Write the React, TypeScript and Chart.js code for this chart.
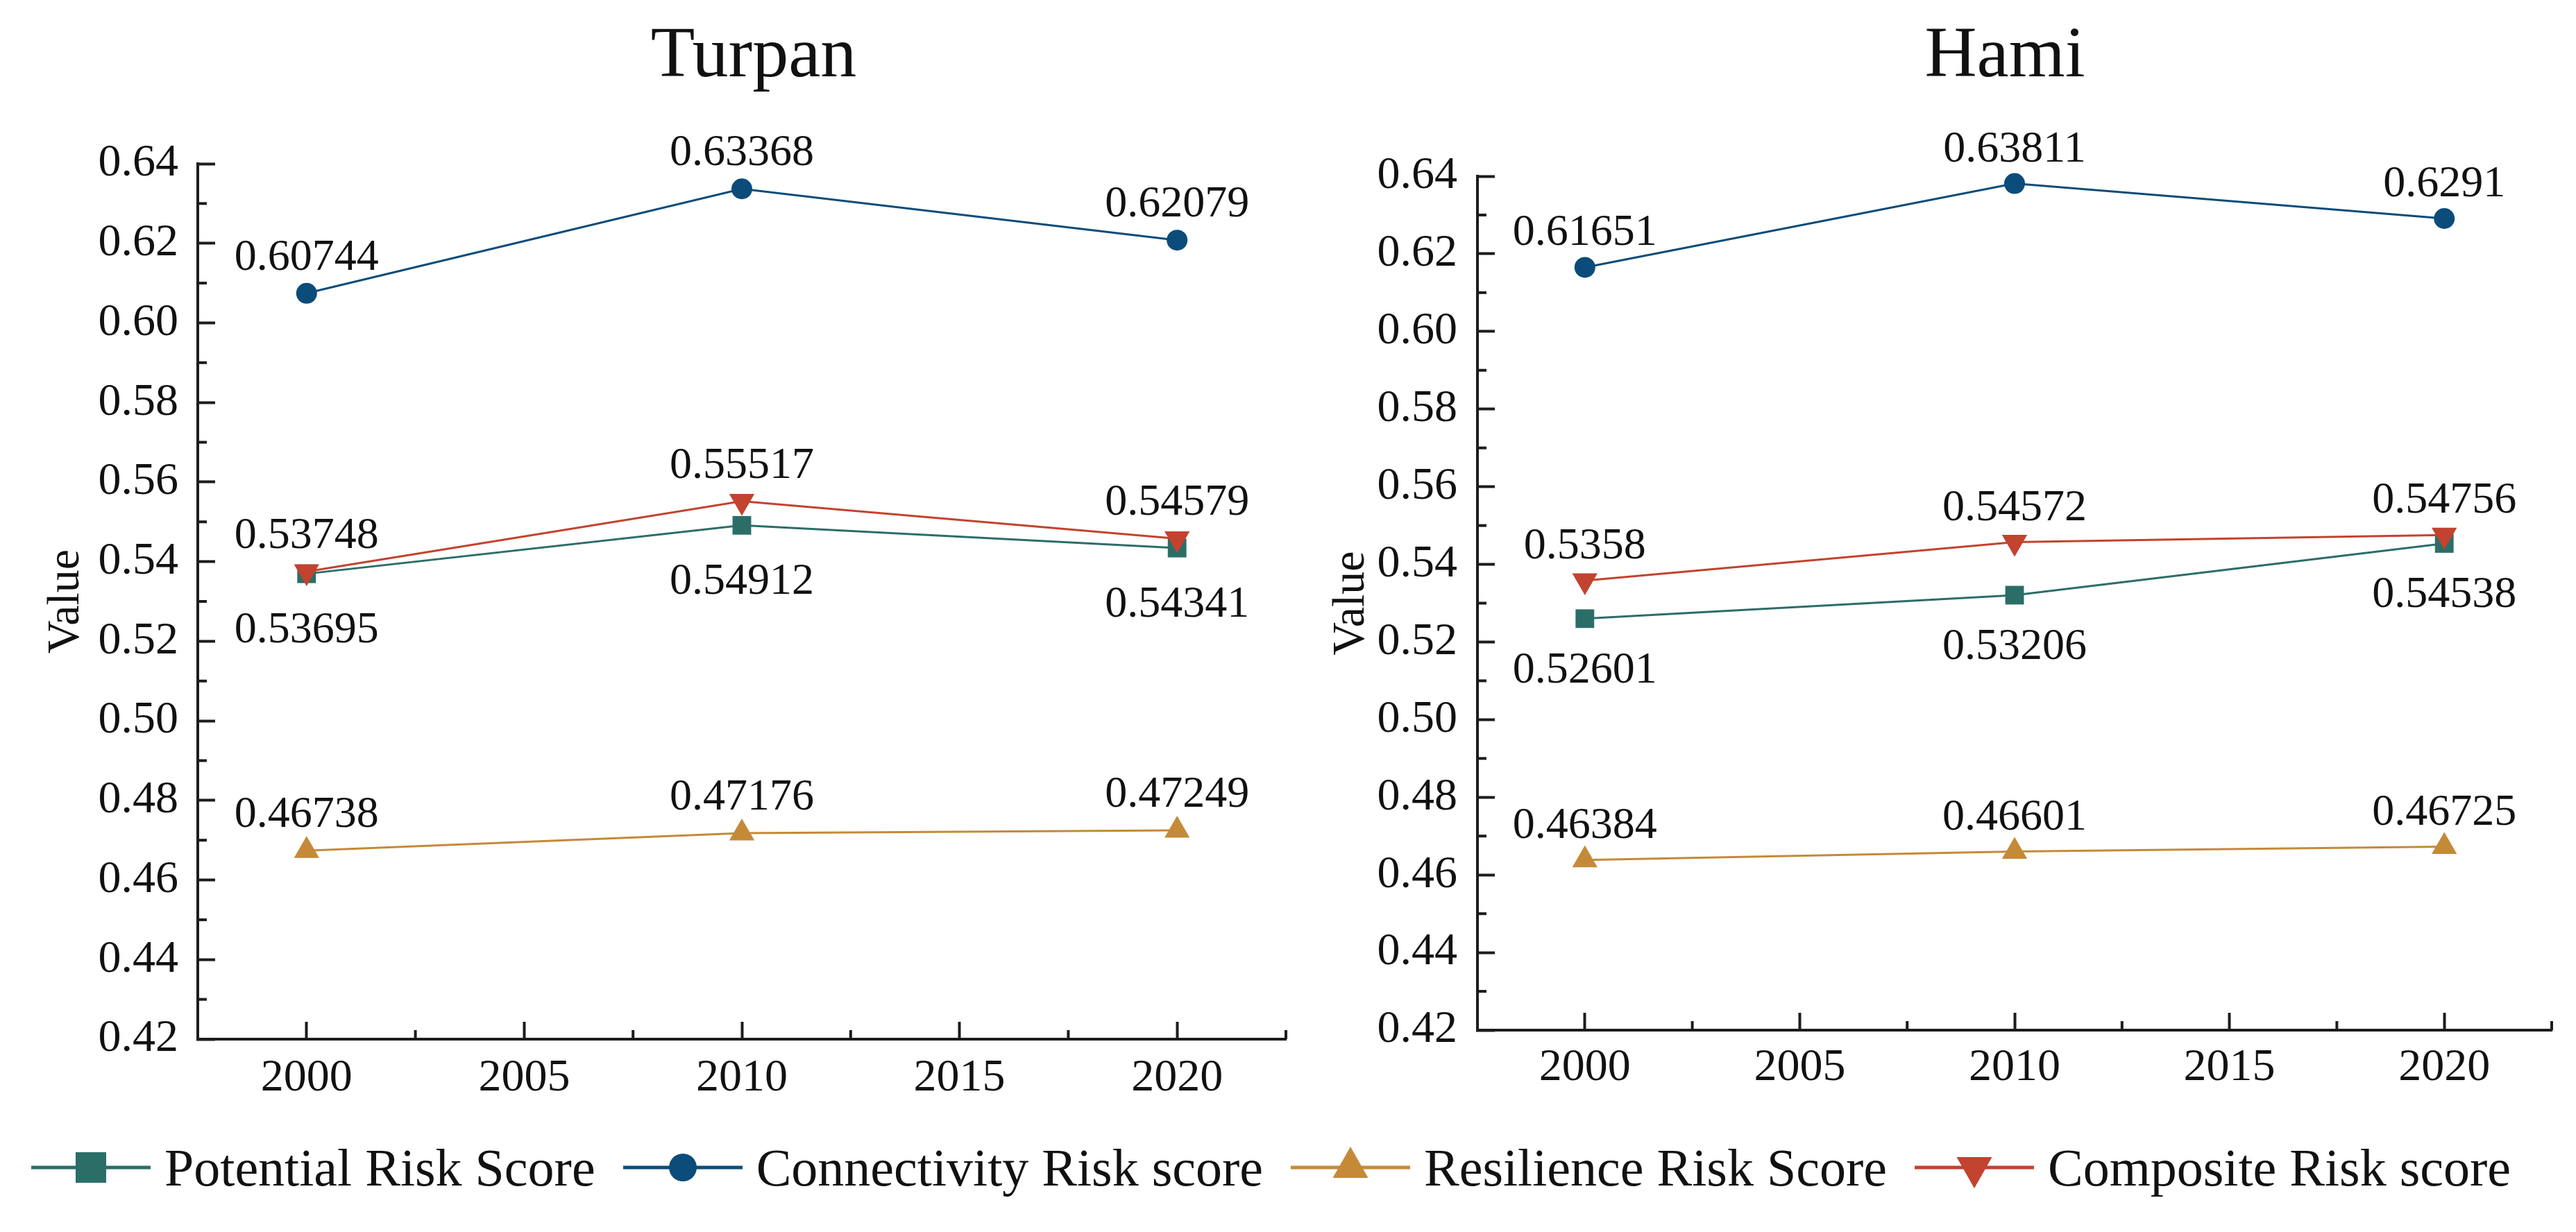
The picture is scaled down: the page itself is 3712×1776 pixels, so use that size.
import React, { useEffect, useRef } from 'react';
import { Chart, registerables } from 'chart.js';

Chart.register(...registerables);

// ---------------- data ----------------
const years = [2000, 2010, 2020];
const xTickValues = [2000, 2005, 2010, 2015, 2020];
const xMinorTicks = [2002.5, 2007.5, 2012.5, 2017.5, 2022.5];
const yTickValues = [0.42, 0.44, 0.46, 0.48, 0.5, 0.52, 0.54, 0.56, 0.58, 0.6, 0.62, 0.64];
const yMinorTicks = [0.43, 0.45, 0.47, 0.49, 0.51, 0.53, 0.55, 0.57, 0.59, 0.61, 0.63];

const seriesNames = [
  'Potential Risk Score',
  'Connectivity Risk score',
  'Resilience Risk Score',
  'Composite Risk score',
];

const turpanPotential = [0.53695, 0.54912, 0.54341];
const turpanConnectivity = [0.60744, 0.63368, 0.62079];
const turpanResilience = [0.46738, 0.47176, 0.47249];
const turpanComposite = [0.53748, 0.55517, 0.54579];

const hamiPotential = [0.52601, 0.53206, 0.54538];
const hamiConnectivity = [0.61651, 0.63811, 0.6291];
const hamiResilience = [0.46384, 0.46601, 0.46725];
const hamiComposite = [0.5358, 0.54572, 0.54756];

// ---------------- styles ----------------
const FONT = '"Liberation Serif", "Times New Roman", Times, serif';
const TEXT = '#111111';
const AXIS = '#1c1c1c';
const COLORS = ['#2B6E68', '#0B4C7A', '#C48A38', '#C2432F'];
const POINT_STYLES = ['rect', 'circle', 'triangle', 'triangle'];
const POINT_ROT = [0, 0, 0, 180];
const POINT_RADIUS = [19, 15, 21, 21];
const DRAW_ORDER = [3, 2, 1, 0];
const LABEL_POS = ['below', 'above', 'above', 'above'];

Chart.defaults.font.family = FONT;

const minorTickPlugin = {
  id: 'minorTicks',
  afterDraw(chart: any) {
    const { ctx, chartArea, scales } = chart;
    ctx.save();
    ctx.strokeStyle = AXIS;
    ctx.lineWidth = 4;
    xMinorTicks.forEach((v) => {
      const x = scales.x.getPixelForValue(v);
      ctx.beginPath();
      ctx.moveTo(x, chartArea.bottom);
      ctx.lineTo(x, chartArea.bottom - 13);
      ctx.stroke();
    });
    yMinorTicks.forEach((v) => {
      const y = scales.y.getPixelForValue(v);
      ctx.beginPath();
      ctx.moveTo(chartArea.left, y);
      ctx.lineTo(chartArea.left + 13, y);
      ctx.stroke();
    });
    ctx.restore();
  },
};

const panelTitlePlugin = {
  id: 'panelTitle',
  afterDraw(chart: any, _args: any, opts: any) {
    const ctx = chart.ctx;
    ctx.save();
    ctx.font = `104px ${FONT}`;
    ctx.fillStyle = TEXT;
    ctx.textAlign = 'center';
    ctx.textBaseline = 'alphabetic';
    const { left, right } = chart.chartArea;
    ctx.fillText(opts.text, (left + right) / 2 + opts.dx, opts.baseline);
    ctx.restore();
  },
};

const valueLabelPlugin = {
  id: 'valueLabels',
  afterDatasetsDraw(chart: any, _args: any, opts: any) {
    const ctx = chart.ctx;
    ctx.save();
    ctx.font = `64px ${FONT}`;
    ctx.fillStyle = TEXT;
    ctx.textAlign = 'center';
    ctx.textBaseline = 'alphabetic';
    chart.data.datasets.forEach((ds: any, di: number) => {
      const meta = chart.getDatasetMeta(di);
      meta.data.forEach((pt: any, i: number) => {
        const v = ds.data[i].y;
        const below = opts.positions[di] === 'below';
        ctx.fillText(String(v), pt.x, below ? pt.y + opts.below : pt.y - opts.above);
      });
    });
    ctx.restore();
  },
};

type Geo = {
  left: number;
  width: number;
  height: number;
  areaLeft: number;
  areaRight: number;
  areaTop: number;
  areaBottom: number;
  titleDx: number;
  yTitlePad: number;
  yTickPad: number;
  xTickPad: number;
  belowOffset: number;
  aboveOffset: number;
};

function Panel({ title, series, geo }: { title: string; series: number[][]; geo: Geo }) {
  const ref = useRef<HTMLCanvasElement | null>(null);
  useEffect(() => {
    if (!ref.current) return;
    const chart = new Chart(ref.current, {
      type: 'line',
      data: {
        datasets: series.map((vals, i) => ({
          label: seriesNames[i],
          data: years.map((x, j) => ({ x, y: vals[j] })),
          borderColor: COLORS[i],
          backgroundColor: COLORS[i],
          borderWidth: 3,
          pointStyle: POINT_STYLES[i] as any,
          pointRotation: POINT_ROT[i],
          pointRadius: POINT_RADIUS[i],
          pointBackgroundColor: COLORS[i],
          pointBorderColor: COLORS[i],
          pointBorderWidth: 0,
          tension: 0,
          clip: false as any,
          order: DRAW_ORDER[i],
        })),
      },
      options: {
        animation: false,
        responsive: false,
        maintainAspectRatio: false,
        events: [],
        layout: {
          padding: { top: geo.areaTop, left: 0, bottom: 0, right: geo.width - geo.areaRight },
        },
        plugins: {
          legend: { display: false },
          tooltip: { enabled: false },
          title: { display: false },
          panelTitle: { text: title, dx: geo.titleDx, baseline: 110 },
          valueLabels: {
            positions: LABEL_POS,
            below: geo.belowOffset,
            above: geo.aboveOffset,
          },
        } as any,
        scales: {
          x: {
            type: 'linear',
            min: 1997.5,
            max: 2022.5,
            afterBuildTicks: (scale: any) => {
              scale.ticks = xTickValues.map((value) => ({ value }));
            },
            afterFit: (scale: any) => {
              scale.height = geo.height - geo.areaBottom;
            },
            ticks: {
              color: TEXT,
              font: { size: 66, family: FONT },
              padding: geo.xTickPad,
              maxRotation: 0,
              autoSkip: false,
              callback: (v: any) => String(v),
            },
            grid: {
              display: true,
              drawOnChartArea: false,
              drawTicks: true,
              tickLength: -25,
              tickWidth: 4,
              tickColor: AXIS,
            },
            border: { display: true, color: AXIS, width: 4 },
          },
          y: {
            type: 'linear',
            min: 0.42,
            max: 0.64,
            afterBuildTicks: (scale: any) => {
              scale.ticks = yTickValues.map((value) => ({ value }));
            },
            afterFit: (scale: any) => {
              scale.width = geo.areaLeft;
            },
            ticks: {
              color: TEXT,
              font: { size: 66, family: FONT },
              padding: geo.yTickPad,
              autoSkip: false,
              callback: (v: any) => Number(v).toFixed(2),
            },
            grid: {
              display: true,
              drawOnChartArea: false,
              drawTicks: true,
              tickLength: -25,
              tickWidth: 4,
              tickColor: AXIS,
            },
            border: { display: true, color: AXIS, width: 4 },
            title: {
              display: true,
              text: 'Value',
              color: TEXT,
              font: { size: 66, family: FONT, lineHeight: 1.2 },
              padding: { top: geo.yTitlePad, bottom: 0 },
            },
          },
        },
      },
      plugins: [minorTickPlugin, valueLabelPlugin, panelTitlePlugin],
    });
    return () => chart.destroy();
  }, []);
  return (
    <canvas
      ref={ref}
      width={geo.width}
      height={geo.height}
      style={{ position: 'absolute', left: geo.left, top: 0, width: geo.width, height: geo.height }}
    />
  );
}

function LegendMarker({ i }: { i: number }) {
  const c = COLORS[i];
  const cx = 86;
  const cy = 45;
  if (POINT_STYLES[i] === 'rect') return <rect x={cx - 22} y={cy - 22} width={44} height={44} fill={c} />;
  if (POINT_STYLES[i] === 'circle') return <circle cx={cx} cy={cy} r={20} fill={c} />;
  if (POINT_ROT[i] === 180)
    return <polygon points={`${cx},${cy + 30} ${cx - 25.5},${cy - 15} ${cx + 25.5},${cy - 15}`} fill={c} />;
  return <polygon points={`${cx},${cy - 30} ${cx - 25.5},${cy + 15} ${cx + 25.5},${cy + 15}`} fill={c} />;
}

export default function App() {
  const turpanGeo: Geo = {
    left: 0,
    width: 1880,
    height: 1600,
    areaLeft: 285,
    areaRight: 1853,
    areaTop: 236,
    areaBottom: 1498,
    titleDx: 17,
    yTitlePad: 56,
    yTickPad: 53,
    xTickPad: 42,
    belowOffset: 99,
    aboveOffset: 34,
  };
  const hamiGeo: Geo = {
    left: 1856,
    width: 1856,
    height: 1600,
    areaLeft: 273,
    areaRight: 1821,
    areaTop: 254,
    areaBottom: 1485,
    titleDx: -14,
    yTitlePad: 52,
    yTickPad: 54,
    xTickPad: 40,
    belowOffset: 92,
    aboveOffset: 32,
  };
  return (
    <div
      style={{
        position: 'absolute',
        left: 0,
        top: 0,
        width: 3712,
        height: 1776,
        background: '#ffffff',
        overflow: 'hidden',
      }}
    >
      <Panel
        title="Turpan"
        series={[turpanPotential, turpanConnectivity, turpanResilience, turpanComposite]}
        geo={turpanGeo}
      />
      <Panel
        title="Hami"
        series={[hamiPotential, hamiConnectivity, hamiResilience, hamiComposite]}
        geo={hamiGeo}
      />
      <div
        style={{
          position: 'absolute',
          left: 45,
          top: 1638,
          display: 'flex',
          alignItems: 'center',
          gap: 40,
          fontFamily: FONT,
          fontSize: 76,
          lineHeight: '90px',
          color: TEXT,
          whiteSpace: 'nowrap',
        }}
      >
        {seriesNames.map((name, i) => (
          <div key={name} style={{ display: 'flex', alignItems: 'center' }}>
            <svg width={172} height={90} style={{ display: 'block', marginRight: 20 }}>
              <line x1={0} y1={45} x2={172} y2={45} stroke={COLORS[i]} strokeWidth={5} />
              <LegendMarker i={i} />
            </svg>
            <span>{name}</span>
          </div>
        ))}
      </div>
    </div>
  );
}
